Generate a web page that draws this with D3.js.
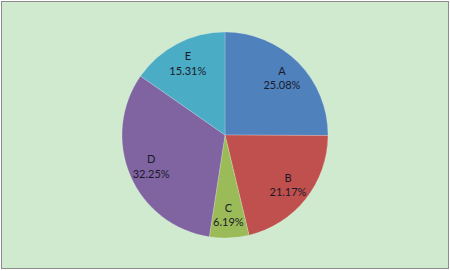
<!doctype html>
<html lang="en">
  <head>
    <meta charset="utf-8">
    <title>Pie</title>
    <style>
      body { margin: 0; background: #fff; }
      svg { display: block; }
      .lbl { font: 11px Lato, sans-serif; fill: #1a1a2a; }
    </style>
  </head>
  <body>
    <div id="chart"></div>
    <script src="https://cdn.jsdelivr.net/npm/d3@7"></script>
    <script>
      var categories = ["A", "B", "C", "D", "E"];
      var percents = [25.08, 21.17, 6.19, 32.25, 15.31];
      var colors = ["#4f81bd", "#c0504d", "#9bbb59", "#8064a2", "#4bacc6"];

      var width = 450, height = 271,
          cx = 225, cy = 135, radius = 103;

      var svg = d3.select("#chart").append("svg")
          .attr("width", width)
          .attr("height", height);

      // background + frame
      svg.append("rect")
          .attr("x", 1.5).attr("y", 1.5)
          .attr("width", width - 3).attr("height", height - 4)
          .attr("fill", "#cfeace")
          .attr("stroke", "#8c8c8c")
          .attr("stroke-width", 1);

      var data = categories.map(function(c, i) { return {name: c, value: percents[i]}; });

      var pie = d3.pie().sort(null).value(function(d) { return d.value; });
      var arc = d3.arc().innerRadius(0).outerRadius(radius);
      var labelArc = d3.arc().innerRadius(radius * 0.78).outerRadius(radius * 0.78);

      var g = svg.append("g").attr("transform", "translate(" + cx + "," + cy + ")");

      var slices = g.selectAll(".arc")
          .data(pie(data))
        .enter().append("g")
          .attr("class", "arc");

      slices.append("path")
          .attr("d", arc)
          .attr("fill", function(d, i) { return colors[i]; })
          .attr("stroke", "rgba(255,255,255,0.25)")
          .attr("stroke-width", 0.8);

      var txt = slices.append("text")
          .attr("class", "lbl")
          .attr("text-anchor", "middle")
          .attr("transform", function(d) { return "translate(" + labelArc.centroid(d) + ")"; });
      txt.append("tspan").attr("x", 0).attr("dy", "-0.3em").text(function(d) { return d.data.name; });
      txt.append("tspan").attr("x", 0).attr("dy", "1.3em").text(function(d) { return d.data.value.toFixed(2) + "%"; });
    </script>
  </body>
</html>
